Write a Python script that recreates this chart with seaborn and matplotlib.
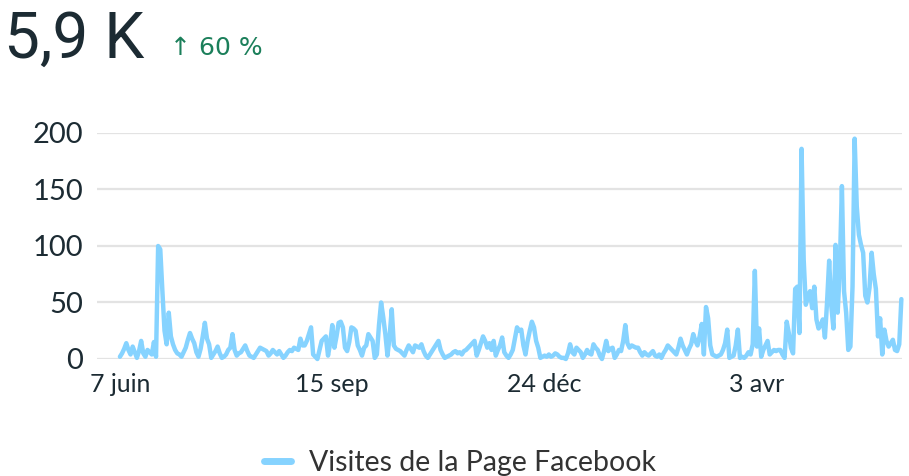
import pandas as pd
import numpy as np
import matplotlib
matplotlib.use('Agg')
import matplotlib.pyplot as plt
import seaborn as sns

## data
start_date = '2022-06-07'
visits = [
    2, 5, 9, 14, 8, 4, 11, 6, 1, 7, 16, 5, 2, 8, 6, 4, 15, 2, 100, 97,
    60, 25, 13, 41, 20, 13, 8, 5, 4, 2, 6, 10, 17, 23, 18, 14, 6, 2, 9, 20,
    32, 18, 13, 1, 4, 7, 11, 5, 1, 2, 4, 8, 10, 22, 8, 3, 5, 6, 9, 12,
    7, 3, 2, 1, 4, 7, 10, 9, 8, 7, 3, 5, 8, 6, 4, 7, 4, 1, 3, 6,
    8, 7, 10, 9, 8, 18, 12, 12, 16, 22, 28, 4, 2, 0, 8, 16, 18, 20, 3, 14,
    30, 10, 20, 32, 33, 28, 10, 7, 15, 28, 27, 25, 12, 8, 3, 10, 12, 22, 19, 16,
    1, 4, 30, 50, 37, 22, 3, 20, 44, 12, 9, 8, 7, 5, 3, 8, 12, 9, 6, 12,
    11, 10, 13, 7, 3, 1, 4, 7, 10, 13, 16, 8, 4, 1, 2, 3, 4, 6, 7, 5,
    6, 4, 7, 8, 10, 12, 14, 16, 3, 8, 14, 20, 16, 10, 14, 8, 16, 3, 8, 12,
    19, 6, 3, 1, 4, 8, 18, 28, 25, 26, 12, 4, 16, 25, 33, 28, 16, 10, 1, 2,
    3, 2, 4, 2, 3, 5, 4, 2, 1, 1, 0, 5, 13, 6, 4, 10, 8, 6, 1, 4,
    8, 5, 4, 13, 10, 8, 3, 0, 7, 16, 7, 9, 10, 1, 4, 8, 7, 16, 30, 14,
    10, 12, 11, 10, 10, 6, 3, 6, 4, 3, 5, 7, 3, 2, 4, 1, 5, 8, 12, 10,
    8, 6, 4, 10, 18, 12, 8, 4, 9, 13, 22, 16, 12, 20, 31, 4, 46, 36, 12, 4,
    3, 2, 3, 4, 8, 14, 26, 1, 2, 3, 12, 26, 1, 2, 1, 3, 6, 4, 13, 78,
    11, 27, 2, 8, 12, 16, 4, 6, 8, 7, 8, 8, 4, 1, 33, 23, 10, 5, 62, 64,
    23, 186, 88, 48, 55, 60, 45, 64, 35, 27, 30, 35, 19, 50, 87, 47, 27, 101, 41, 80,
    153, 60, 41, 8, 11, 64, 195, 135, 110, 101, 94, 56, 50, 63, 94, 75, 62, 20, 36, 4,
    26, 16, 11, 14, 17, 8, 7, 13, 53,
]
tick_dates = ['2022-06-07', '2022-09-15', '2022-12-24', '2023-04-03']
tick_labels = ['7 juin', '15 sep', '24 déc', '3 avr']
y_ticks = [0, 50, 100, 150, 200]
total_label = '5,9 K'
change_label = '↑ 60 %'
series_name = 'Visites de la Page Facebook'

df = pd.DataFrame({
    'date': pd.date_range(start_date, periods=len(visits), freq='D'),
    'visits': visits,
})

## style
sns.set_style('white')
plt.rcParams['font.family'] = ['Lato', 'DejaVu Sans']
text_color = '#1c2b33'
line_color = '#86d3ff'

fig = plt.figure(figsize=(9.09, 4.76), dpi=100)
ax = fig.add_axes([0.1067, 0.2458, 0.8856, 0.4748])

sns.lineplot(data=df, x='date', y='visits', ax=ax, color=line_color,
             linewidth=3.2, label=series_name, clip_on=False)

ax.set_ylim(0, 200)
ax.set_yticks(y_ticks)
ax.set_xlim(pd.Timestamp(start_date) - pd.Timedelta(days=10.8),
            pd.Timestamp(start_date) + pd.Timedelta(days=368.3))
ax.set_xticks([pd.Timestamp(d) for d in tick_dates])
ax.set_xticklabels(tick_labels)
ax.grid(axis='y', color='#e3e3e3', linewidth=1.6)
ax.set_axisbelow(True)
for side in ['top', 'right', 'left', 'bottom']:
    ax.spines[side].set_visible(False)
ax.tick_params(axis='both', length=0, colors=text_color)
ax.tick_params(axis='y', labelsize=21, pad=10)
ax.tick_params(axis='x', labelsize=18, pad=10)
ax.set_xlabel('')
ax.set_ylabel('')

# legend below the plot
leg = ax.legend(loc='upper center', bbox_to_anchor=(0.451, -0.29), frameon=False,
                fontsize=20.5, handlelength=0.95, handletextpad=0.65,
                labelcolor='#333333')
for h in leg.get_lines():
    h.set_linewidth(5)
    h.set_solid_capstyle('round')

# header numbers
fig.text(0.004, 0.878, total_label, fontsize=46, color=text_color,
         va='baseline', family=['Roboto', 'DejaVu Sans'])
fig.text(0.187, 0.8845, change_label, fontsize=18, color='#1b7f5a',
         va='baseline', family=['DejaVu Sans'])

fig.savefig('out.png', dpi=100)
